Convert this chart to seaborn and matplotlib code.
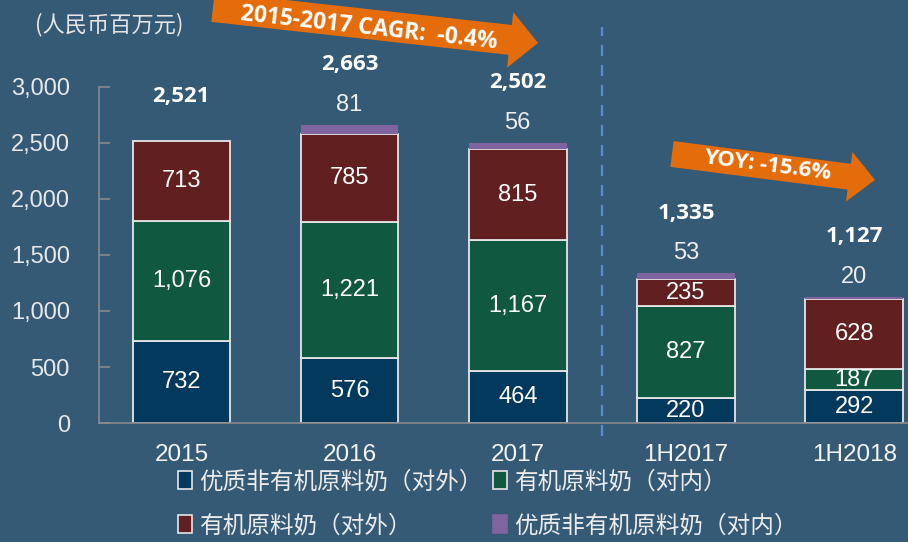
import numpy as np
import matplotlib
matplotlib.use("Agg")
import matplotlib.pyplot as plt
import seaborn as sns
from matplotlib.patches import Polygon
from matplotlib.patches import Patch

# --- datos ---
periods = ["2015", "2016", "2017", "1H2017", "1H2018"]
nonorg_ext = [732, 576, 464, 220, 292]      # 优质非有机原料奶（对外）
org_int = [1076, 1221, 1167, 827, 187]      # 有机原料奶（对内）
org_ext = [713, 785, 815, 235, 628]         # 有机原料奶（对外）
nonorg_int = [0, 81, 56, 53, 20]            # 优质非有机原料奶（对内）
totals = [2521, 2663, 2502, 1335, 1127]

labels = ["优质非有机原料奶（对外）", "有机原料奶（对内）",
          "有机原料奶（对外）", "优质非有机原料奶（对内）"]
colors = ["#03395c", "#10583f", "#621f1f", "#8064a0"]

bg = "#345a76"
orange = "#e46c0a"
W, H = 908, 542

sns.set_theme(style="white")
plt.rcParams["font.family"] = ["Liberation Sans", "Noto Sans CJK SC", "DejaVu Sans"]

fig = plt.figure(figsize=(W / 100, H / 100), dpi=100, facecolor=bg)
ax = fig.add_axes([99 / W, 1 - 423 / H, 1 - 99 / W, (423 - 87) / H])
ax.set_facecolor(bg)

layers = [nonorg_ext, org_int, org_ext, nonorg_int]
bottom = np.zeros(len(periods))
for i, (vals, col) in enumerate(zip(layers, colors)):
    last = i == len(layers) - 1
    sns.barplot(x=periods, y=vals, order=periods, color=col, width=0.58,
                bottom=bottom.copy(), errorbar=None, saturation=1,
                edgecolor="none" if last else "#e6e6e6",
                linewidth=0 if last else 1.3, ax=ax)
    if not last:
        for j, v in enumerate(vals):
            ax.text(j, bottom[j] + v / 2, f"{v:,}", ha="center", va="center",
                    color="white", fontsize=17)
    bottom += np.array(vals)

# etiquetas de totales y segmento superior
for j, t in enumerate(totals):
    inner = nonorg_int[j]
    if inner:
        ax.annotate(f"{inner}", xy=(j, bottom[j]), xytext=(0, 20),
                    textcoords="offset pixels", ha="center", va="center",
                    color="#eeeeee", fontsize=17, annotation_clip=False)
    off = 60 if inner else 44
    ax.annotate(f"{t:,}", xy=(j, bottom[j]), xytext=(0, off),
                textcoords="offset pixels", ha="center", va="center",
                color="white", fontsize=16, fontweight="bold",
                family="Open Sans", annotation_clip=False)

ax.set_ylim(0, 3000)
ax.set_xlim(-0.49, 4.32)
ax.set_yticks(range(0, 3001, 500))
ax.set_yticklabels([f"{v:,}" for v in range(0, 3001, 500)])
ax.set_xlabel("")
ax.set_ylabel("")

for s in ["top", "right"]:
    ax.spines[s].set_visible(False)
for s in ["left", "bottom"]:
    ax.spines[s].set_color("#8a8a8a")
    ax.spines[s].set_linewidth(1.2)
ax.tick_params(axis="y", direction="in", length=8, width=1.2, color="#8a8a8a",
               labelsize=17, labelcolor="#e8e8e8", pad=21, left=True)
ax.tick_params(axis="x", length=0, labelsize=17.5, labelcolor="#f4f4f4", pad=15)

# línea divisoria
ax.axvline(2.5, ymin=-0.04, ymax=1.18, color="#5b8ccc", lw=1.6,
           ls=(0, (5, 4)), clip_on=False)

# unidades
fig.text(35 / W, 1 - 25 / H, "(人民币百万元)", color="#e6e6e6", fontsize=16,
         ha="left", va="center", family=["Noto Sans CJK SC", "DejaVu Sans"])


def fat_arrow(tail, tip, body, head_w, head_len, text, fs, tpos):
    p0 = np.array(tail, float)
    p1 = np.array(tip, float)
    d = (p1 - p0) / np.linalg.norm(p1 - p0)
    n = np.array([-d[1], d[0]])
    neck = p1 - d * head_len
    pts = [p0 + n * body / 2, neck + n * body / 2, neck + n * head_w / 2, p1,
           neck - n * head_w / 2, neck - n * body / 2, p0 - n * body / 2]
    pts = [(x / W, 1 - y / H) for x, y in pts]
    fig.patches.append(Polygon(pts, closed=True, transform=fig.transFigure,
                               facecolor=orange, edgecolor="none"))
    ang = -np.degrees(np.arctan2(d[1], d[0]))
    fig.text(tpos[0] / W, 1 - tpos[1] / H, text, rotation=ang,
             rotation_mode="anchor", ha="center", va="center", color="white",
             fontsize=fs, fontweight="bold", family="Open Sans")


fat_arrow((213, 7), (538, 43), 30, 56, 28, "2015-2017 CAGR:  -0.4%", 16.5, (369, 28))
fat_arrow((672, 154), (875, 180), 26, 50, 26, "YOY: -15.6%", 16, (767, 166))

# leyenda
order = [0, 2, 1, 3]
handles = []
for k in order:
    ec = "#e6e6e6" if k != 3 else colors[k]
    handles.append(Patch(facecolor=colors[k], edgecolor=ec, linewidth=1.2,
                         label=labels[k]))
leg = fig.legend(handles=handles, ncol=2, frameon=False,
                 loc="center left", bbox_to_anchor=(166 / W, 1 - 504 / H),
                 handlelength=0.6, handleheight=0.8, handletextpad=0.3,
                 columnspacing=0.45, labelspacing=0.9, borderpad=0,
                 prop={"family": ["Noto Sans CJK SC", "DejaVu Sans"], "size": 17})
for t in leg.get_texts():
    t.set_color("#ececec")

fig.savefig("out.png", dpi=100, facecolor=bg)
